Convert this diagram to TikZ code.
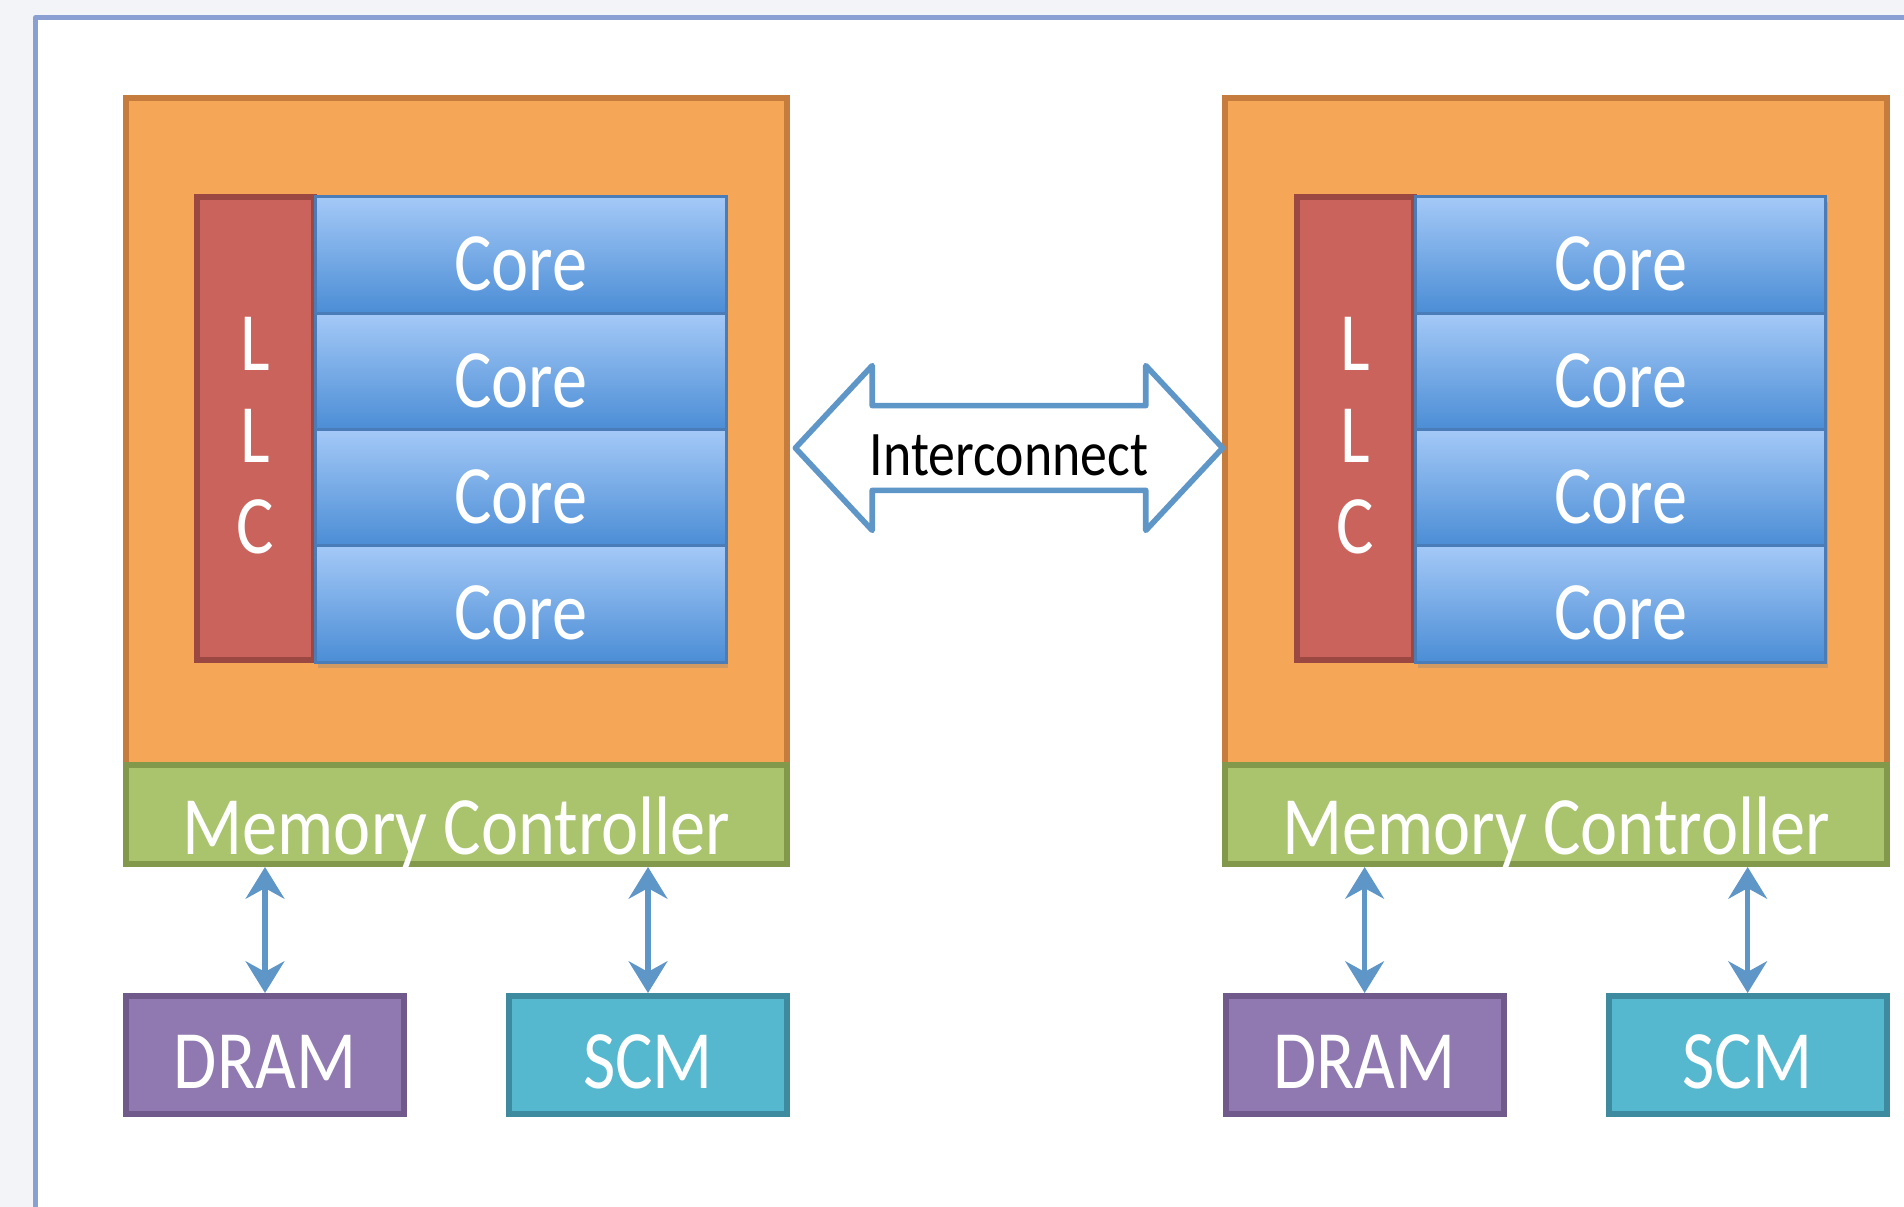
\documentclass[tikz,border=0pt]{standalone}
\usepackage{fontspec}
\setmainfont{Carlito}
\usepackage{graphicx}
\usetikzlibrary{arrows.meta,shapes.arrows,shadows}

\definecolor{pagebg}{HTML}{F2F4F8}
\definecolor{framec}{HTML}{8AA0D2}
\definecolor{chipfill}{HTML}{F5A657}
\definecolor{chipline}{HTML}{C57C3C}
\definecolor{llcfill}{HTML}{CB635D}
\definecolor{llcline}{HTML}{9B4843}
\definecolor{coretop}{HTML}{A4C9F7}
\definecolor{corebot}{HTML}{4B8DD5}
\definecolor{coreline}{HTML}{4A7DB8}
\definecolor{mcfill}{HTML}{A9C46C}
\definecolor{mcline}{HTML}{82994C}
\definecolor{dramfill}{HTML}{9078B0}
\definecolor{dramline}{HTML}{705A8C}
\definecolor{scmfill}{HTML}{56B8CE}
\definecolor{scmline}{HTML}{3E8BA0}
\definecolor{linkblue}{HTML}{5E96C8}

% text is a little taller than wide in the picture, and sits low in its box
\newcommand{\tall}[2][10.2pt]{\raisebox{-#1}[0pt][0pt]{\scalebox{1}[1.18]{#2}}}

\tikzset{
  box/.style={rectangle, inner sep=0pt, line width=1.7pt, text=white, font=\fontsize{20}{24}\selectfont},
  chip/.style={box, draw=chipline, fill=chipfill, minimum width=6.61cm, minimum height=6.67cm},
  llc/.style={box, draw=llcline, fill=llcfill, minimum width=1.17cm, minimum height=4.63cm, align=center, font=\fontsize{20}{26}\selectfont},
  core/.style={box, line width=0.8pt, draw=coreline, top color=coretop, bottom color=corebot, minimum width=4.10cm, minimum height=1.1625cm,
    drop shadow={opacity=0.3, shadow xshift=0.6pt, shadow yshift=-1.6pt}},
  memctl/.style={box, draw=mcline, fill=mcfill, minimum width=6.61cm, minimum height=0.99cm},
  dram/.style={box, draw=dramline, fill=dramfill, minimum width=2.78cm, minimum height=1.18cm},
  scm/.style={box, draw=scmline, fill=scmfill, minimum width=2.78cm, minimum height=1.18cm},
  memlink/.style={{Stealth[length=9pt,width=11pt,inset=3pt]}-{Stealth[length=9pt,width=11pt,inset=3pt]}, line width=1.6pt, draw=linkblue},
  icarrow/.style={double arrow, draw=linkblue, line width=1.6pt, line join=round, fill=white, text=black,
    font=\fontsize{15.3}{18}\selectfont, minimum height=4.27cm, double arrow head extend=0.40cm,
    double arrow tip angle=94, inner xsep=0pt, inner ysep=3.55pt, text height=15.4pt, text depth=0pt}
}

\begin{document}
\begin{tikzpicture}[x=0.01cm, y=-0.01cm]
  \useasboundingbox (0,0) rectangle (1904,1207);

  % page and window frame
  \fill[pagebg] (0,0) rectangle (1904,1207);
  \fill[white] (35.5,17.5) rectangle (1904,1207);
  \draw[framec, line width=1.4pt, line join=round] (35.5,1207) |- (1904,17.5);

  % two sockets
  \foreach \s/\dx in {L/0, R/10.99}{
    \begin{scope}[xshift=\dx cm]
      \node[chip] (chip\s) at (456.5,431.5) {};
      \node[memctl] (mc\s) at (456.5,814.5) {\tall[11.3pt]{Memory Controller}};
      \node[llc] (llc\s) at (255.5,428.5) {\tall[9.6pt]{L}\\\tall[9.6pt]{L}\\\tall[9.6pt]{C}};
      \node[core] (core\s1) at (521,255) {\tall{Core}};
      \node[core] (core\s2) at (521,371.5) {\tall{Core}};
      \node[core] (core\s3) at (521,487.5) {\tall{Core}};
      \node[core] (core\s4) at (521,604) {\tall{Core}};
      \node[dram] (dram\s) at (265,1055) {\tall[9.5pt]{DRAM}};
      \node[scm] (scm\s) at (648,1055) {\tall[9.5pt]{SCM}};
      \draw[memlink] (dram\s.north) -- (dram\s.north |- mc\s.south);
      \draw[memlink] (scm\s.north) -- (scm\s.north |- mc\s.south);
    \end{scope}
  }

  % link between the sockets
  \node[icarrow] (ic) at (1009,448) {\tall[0pt]{Interconnect}};
\end{tikzpicture}
\end{document}
